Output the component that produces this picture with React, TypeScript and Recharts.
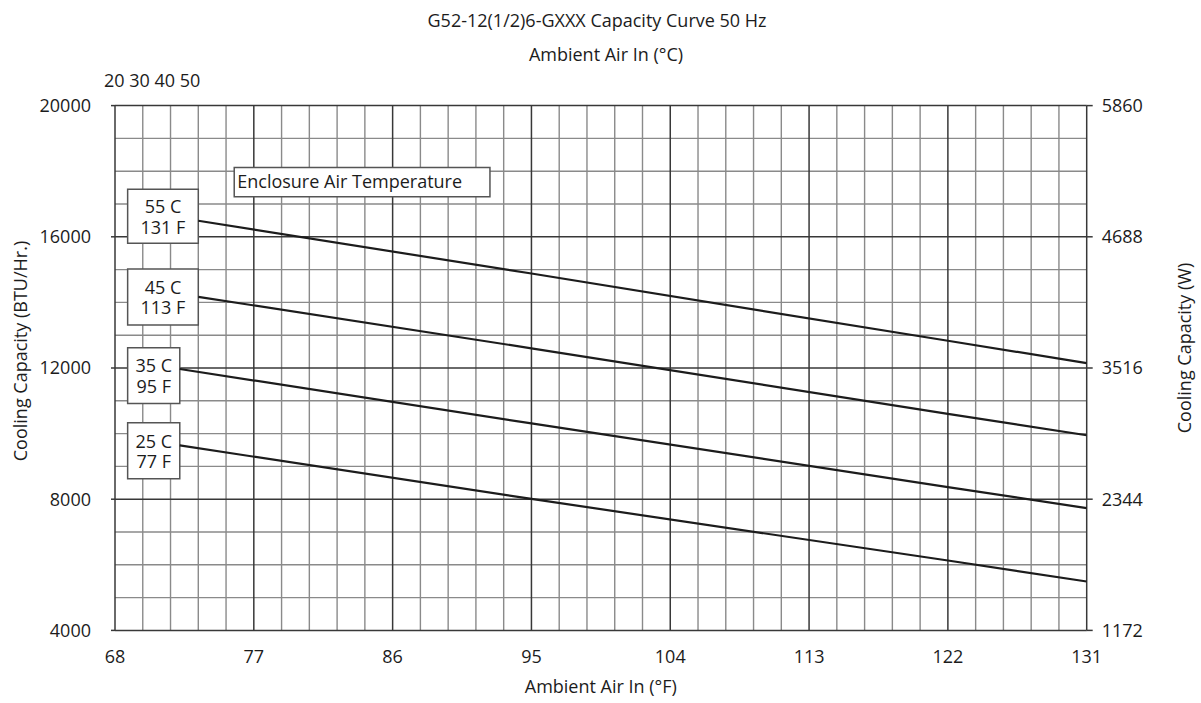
import { LineChart, Line, XAxis, YAxis, CartesianGrid, ReferenceArea } from 'recharts';

const FONT = '"Open Sans", sans-serif';
const INK = '#1c1c1c';

// axis ticks
const fahrenheitTicks = [68, 77, 86, 95, 104, 113, 122, 131];
const btuTicks = [4000, 8000, 12000, 16000, 20000];
const wattTicks = [1172, 2344, 3516, 4688, 5860];
const celsiusTopText = '20 30 40 50';

// capacity curves (x = ambient °F, y = BTU/Hr.)
const curve55C = [
  { x: 73.4, y: 16490 },
  { x: 95, y: 14880 },
  { x: 122, y: 12830 },
  { x: 131, y: 12150 },
];
const curve45C = [
  { x: 73.4, y: 14170 },
  { x: 95, y: 12600 },
  { x: 122, y: 10600 },
  { x: 131, y: 9950 },
];
const curve35C = [
  { x: 72.2, y: 11970 },
  { x: 95, y: 10310 },
  { x: 122, y: 8370 },
  { x: 131, y: 7730 },
];
const curve25C = [
  { x: 72.2, y: 9640 },
  { x: 95, y: 8010 },
  { x: 122, y: 6130 },
  { x: 131, y: 5490 },
];

const curves = [curve55C, curve45C, curve35C, curve25C];

// grid: 1 °C steps across, 1000 BTU steps up
const gridX = Array.from({ length: 36 }, (_, i) => +(68 + i * 1.8).toFixed(1));
const gridY = Array.from({ length: 17 }, (_, i) => 4000 + i * 1000);

// tag boxes next to the curves
const tagBoxes = [
  { x1: 68.82, x2: 73.4, y1: 15800, y2: 17450, lines: ['55 C', '131 F'] },
  { x1: 68.82, x2: 73.4, y1: 13310, y2: 15020, lines: ['45 C', '113 F'] },
  { x1: 68.82, x2: 72.2, y1: 10920, y2: 12620, lines: ['35 C', '95 F'] },
  { x1: 68.82, x2: 72.2, y1: 8620, y2: 10330, lines: ['25 C', '77 F'] },
];
const headerBox = { x1: 75.73, x2: 92.31, y1: 17220, y2: 18110, text: 'Enclosure Air Temperature' };

const textStyle = { fill: INK, fontSize: 18, fontFamily: FONT };

function TagText({ viewBox, lines }: any) {
  const { x, y, width, height } = viewBox;
  const cx = x + width / 2;
  const cy = y + height / 2;
  return (
    <g>
      <text x={cx} y={cy - 3.3} textAnchor="middle" {...textStyle}>{lines[0]}</text>
      <text x={cx} y={cy + 17.3} textAnchor="middle" {...textStyle}>{lines[1]}</text>
    </g>
  );
}

function HeaderText({ viewBox, text }: any) {
  const { x, y, height } = viewBox;
  return (
    <text x={x + 3} y={y + height / 2 + 6} {...textStyle}>
      {text}
    </text>
  );
}

function SideTitle({ text, cx, cy }: any) {
  return (
    <text
      x={cx}
      y={cy}
      transform={`rotate(-90, ${cx}, ${cy})`}
      textAnchor="middle"
      dominantBaseline="central"
      {...textStyle}
    >
      {text}
    </text>
  );
}

export default function App() {
  const isMajorX = (v: number) => Math.abs((v - 68) % 9) < 0.01;
  const isMajorY = (v: number) => v % 4000 === 0;
  const minorX = gridX.filter((v) => !isMajorX(v));
  const minorY = gridY.filter((v) => !isMajorY(v));

  return (
    <div style={{ position: 'absolute', left: 0, top: 0, width: 1201, height: 703 }}>
      <LineChart width={1201} height={703} margin={{ top: 95.6, right: 0, bottom: 0, left: 0 }}>
        <CartesianGrid
          verticalValues={minorX}
          horizontalValues={minorY}
          stroke="#8a8a8a"
          strokeWidth={1.4}
        />
        <CartesianGrid
          verticalValues={fahrenheitTicks}
          horizontalValues={btuTicks}
          stroke="#383838"
          strokeWidth={1.5}
        />
        <XAxis
          xAxisId="top"
          orientation="top"
          type="number"
          domain={[68, 131]}
          allowDataOverflow
          ticks={fahrenheitTicks}
          interval={0}
          tickFormatter={() => ''}
          height={10}
          tickSize={6}
          axisLine={false}
          tickLine={{ stroke: '#383838', strokeWidth: 1.5 }}
        />
        <XAxis
          type="number"
          dataKey="x"
          domain={[68, 131]}
          allowDataOverflow
          ticks={fahrenheitTicks}
          interval={0}
          height={72.6}
          tickSize={0}
          tickMargin={19.5}
          tickLine={false}
          axisLine={false}
          tick={textStyle}
          label={{ value: 'Ambient Air In (°F)', position: 'insideBottom', offset: 10, ...textStyle }}
        />
        <YAxis
          type="number"
          domain={[4000, 20000]}
          allowDataOverflow
          ticks={btuTicks}
          interval={0}
          width={115}
          tickSize={4}
          tickMargin={20}
          axisLine={false}
          tickLine={{ stroke: '#383838', strokeWidth: 1.5 }}
          tick={textStyle}
          label={<SideTitle text="Cooling Capacity (BTU/Hr.)" cx={20} cy={351} />}
        />
        <YAxis
          yAxisId="right"
          orientation="right"
          type="number"
          domain={[1172, 5860]}
          allowDataOverflow
          ticks={wattTicks}
          interval={0}
          width={114.3}
          tickSize={6}
          tickMargin={9}
          axisLine={false}
          tickLine={{ stroke: '#383838', strokeWidth: 1.5 }}
          tick={textStyle}
          label={<SideTitle text="Cooling Capacity (W)" cx={1184} cy={348} />}
        />

        {tagBoxes.map((b) => (
          <ReferenceArea
            key={b.lines[0]}
            x1={b.x1}
            x2={b.x2}
            y1={b.y1}
            y2={b.y2}
            fill="#ffffff"
            fillOpacity={1}
            stroke="#555555"
            strokeWidth={1.5}
            label={<TagText lines={b.lines} />}
          />
        ))}
        <ReferenceArea
          x1={headerBox.x1}
          x2={headerBox.x2}
          y1={headerBox.y1}
          y2={headerBox.y2}
          fill="#ffffff"
          fillOpacity={1}
          stroke="#555555"
          strokeWidth={1.5}
          label={<HeaderText text={headerBox.text} />}
        />

        {curves.map((c, i) => (
          <Line
            key={i}
            data={c}
            dataKey="y"
            type="linear"
            stroke={INK}
            strokeWidth={2.2}
            dot={false}
            activeDot={false}
            isAnimationActive={false}
          />
        ))}
        {/* keeps the watt axis alive: same curve on the W scale, not drawn */}
        <Line
          yAxisId="right"
          data={curve55C.map((p) => ({ x: p.x, y: p.y * 0.293 }))}
          dataKey="y"
          stroke="none"
          dot={false}
          activeDot={false}
          legendType="none"
          isAnimationActive={false}
        />
      </LineChart>

      <svg
        width={1201}
        height={100}
        style={{ position: 'absolute', left: 0, top: 0, pointerEvents: 'none' }}
      >
        <text x={597} y={27} textAnchor="middle" {...textStyle}>
          G52-12(1/2)6-GXXX Capacity Curve 50 Hz
        </text>
        <text x={606} y={61} textAnchor="middle" {...textStyle}>
          Ambient Air In (°C)
        </text>
        <text x={104} y={87} {...textStyle}>
          {celsiusTopText}
        </text>
      </svg>
    </div>
  );
}
